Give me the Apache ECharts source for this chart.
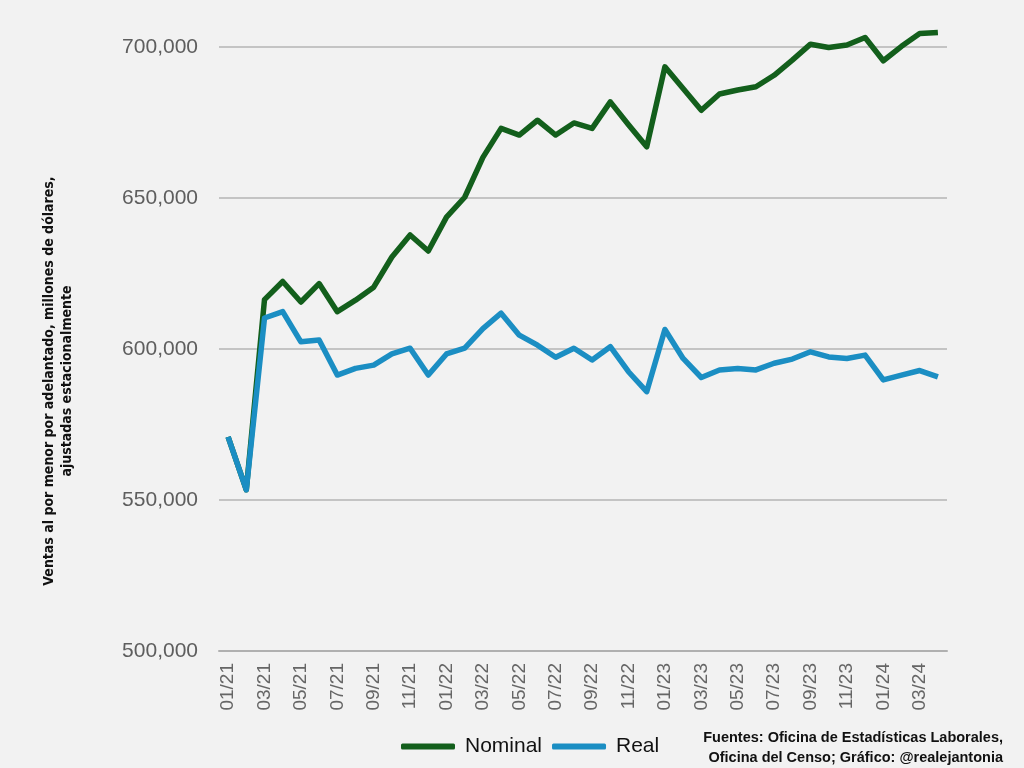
<!DOCTYPE html>
<html>
<head>
<meta charset="utf-8">
<script src="https://cdn.jsdelivr.net/npm/echarts@6/dist/echarts.min.js"></script>
<style>
  html, body { margin: 0; padding: 0; background: #f2f2f2; }
  #chart { width: 1024px; height: 768px; }
</style>
</head>
<body>
<div id="chart"></div>
<script>
// meses (mm/aa)
var months = ['01/21','02/21','03/21','04/21','05/21','06/21','07/21','08/21','09/21','10/21','11/21','12/21',
              '01/22','02/22','03/22','04/22','05/22','06/22','07/22','08/22','09/22','10/22','11/22','12/22',
              '01/23','02/23','03/23','04/23','05/23','06/23','07/23','08/23','09/23','10/23','11/23','12/23',
              '01/24','02/24','03/24','04/24'];

// ventas nominales, millones de dólares
var nominal = [570900, 553400, 616400, 622400, 615600, 621700, 612400, 616200, 620500, 630500, 637800, 632500,
               643700, 650300, 663500, 673100, 670900, 675800, 670900, 674900, 673100, 681900, 674300, 667000,
               693500, 686300, 679100, 684500, 685800, 686900, 690700, 695700, 701000, 699900, 700700, 703200,
               695500, 700300, 704500, 704900];

// ventas reales
var real = [570900, 553400, 610300, 612400, 602400, 603000, 591400, 593600, 594700, 598400, 600300, 591400,
            598400, 600300, 606800, 611900, 604600, 601300, 597300, 600300, 596400, 600800, 592500, 585900,
            606500, 596900, 590600, 593100, 593600, 593100, 595300, 596700, 599100, 597400, 596900, 598000,
            589800, 591400, 592900, 590800];

var yTicks = { min: 500000, max: 710000, step: 50000 };

var arial = '"Liberation Sans", Arial, sans-serif';
var narrow = '"Liberation Sans Narrow", "DejaVu Sans Condensed", sans-serif';

var myChart = echarts.init(document.getElementById('chart'));
var option = {
    backgroundColor: '#f2f2f2',
    animation: false,
    title: {
        text: 'Fuentes: Oficina de Estadísticas Laborales,\nOficina del Censo; Gráfico: @realejantonia',
        left: 998,
        top: 723,
        textAlign: 'right',
        textStyle: {
            fontFamily: arial,
            fontSize: 14.5,
            fontWeight: 'bold',
            color: '#111',
            lineHeight: 20,
            align: 'right'
        }
    },
    legend: {
        data: ['Nominal', 'Real'],
        left: 396,
        top: 731,
        itemWidth: 54,
        itemHeight: 6,
        itemGap: 10,
        icon: 'roundRect',
        textStyle: {
            fontFamily: arial,
            fontSize: 21,
            color: '#111',
            padding: [0, 0, 0, 5]
        }
    },
    grid: {
        left: 219,
        right: 77,
        top: 17,
        bottom: 117
    },
    xAxis: {
        type: 'category',
        data: months,
        boundaryGap: true,
        axisLine: {
            lineStyle: { color: '#b0b0b0', width: 2 }
        },
        axisTick: {
            interval: 1,
            length: 6,
            lineStyle: { color: '#b0b0b0', width: 1.5 }
        },
        axisLabel: {
            interval: 1,
            rotate: 90,
            margin: 12,
            fontFamily: arial,
            fontSize: 19,
            color: '#666'
        }
    },
    yAxis: {
        type: 'value',
        min: yTicks.min,
        max: yTicks.max,
        interval: yTicks.step,
        name: 'Ventas al por menor por adelantado, millones de dólares,\najustadas estacionalmente',
        nameLocation: 'middle',
        nameGap: 143,
        nameTextStyle: {
            fontFamily: narrow,
            fontSize: 14,
            fontWeight: 'bold',
            color: '#111',
            lineHeight: 18,
            padding: [0, 94, 0, 0]
        },
        axisLine: { show: false },
        axisTick: { show: false },
        splitLine: {
            showMaxLine: false,
            lineStyle: { color: '#c4c4c4', width: 2 }
        },
        axisLabel: {
            showMaxLabel: false,
            margin: 21,
            fontFamily: arial,
            fontSize: 21,
            color: '#5e5e5e',
            formatter: function (v) {
                return v % yTicks.step === 0 ? echarts.format.addCommas(v) : '';
            }
        }
    },
    series: [{
        name: 'Nominal',
        type: 'line',
        data: nominal,
        showSymbol: false,
        itemStyle: { color: '#135f1c' },
        lineStyle: { color: '#135f1c', width: 5.5, join: 'round' }
    }, {
        name: 'Real',
        type: 'line',
        data: real,
        showSymbol: false,
        itemStyle: { color: '#1b8ec3' },
        lineStyle: { color: '#1b8ec3', width: 5.5, join: 'round' }
    }]
};

myChart.setOption(option);
</script>
</body>
</html>
